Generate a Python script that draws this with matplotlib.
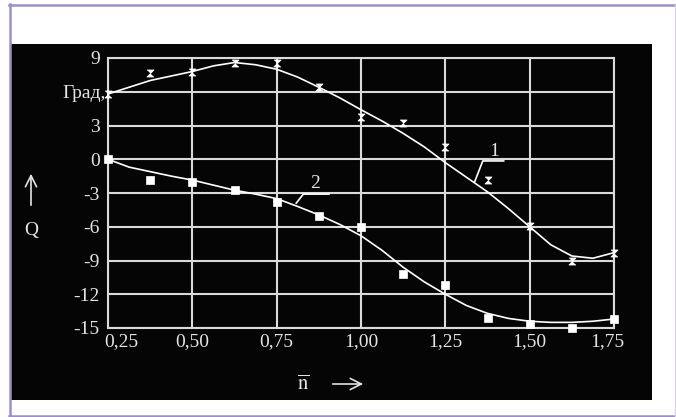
import matplotlib
matplotlib.use("Agg")
import matplotlib.pyplot as plt
import matplotlib.transforms as mtransforms
from matplotlib.patches import Rectangle
from matplotlib.lines import Line2D

plt.rcParams['font.family'] = ['Liberation Serif', 'DejaVu Serif']
plt.rcParams['mathtext.fontset'] = 'stix'

# measured points (markers)
n_pts = [0.25, 0.375, 0.5, 0.625, 0.75, 0.875, 1.0, 1.125, 1.25, 1.375, 1.5, 1.625, 1.75]
q1_pts = [5.8, 7.7, 7.8, 8.6, 8.6, 6.4, 3.8, 3.2, 1.1, -1.8, -5.9, -9.0, -8.3]
q2_pts = [0.0, -1.85, -2.0, -2.7, -3.8, -5.0, -6.05, -10.2, -11.2, -14.1, -14.6, -15.0, -14.2]

# smooth curves
n_curve = [0.25, 0.3125, 0.375, 0.4375, 0.5, 0.5625, 0.625, 0.6875, 0.75, 0.8125,
           0.875, 0.9375, 1.0, 1.0625, 1.125, 1.1875, 1.25, 1.3125, 1.375, 1.4375,
           1.5, 1.5625, 1.625, 1.6875, 1.75]
q1_curve = [5.8, 6.4, 7.0, 7.4, 7.8, 8.3, 8.6, 8.4, 8.0, 7.3,
            6.4, 5.45, 4.4, 3.4, 2.3, 1.1, -0.3, -1.6, -2.9, -4.4,
            -6.0, -7.6, -8.6, -8.8, -8.3]
q2_curve = [0.0, -0.7, -1.1, -1.5, -1.85, -2.3, -2.75, -3.1, -3.5, -4.2,
            -4.95, -5.8, -6.8, -8.1, -9.6, -10.9, -12.0, -13.0, -13.7, -14.15,
            -14.4, -14.5, -14.5, -14.4, -14.2]

x_ticks = [0.25, 0.5, 0.75, 1.0, 1.25, 1.5, 1.75]
x_labels = ['0,25', '0,50', '0,75', '1,00', '1,25', '1,50', '1,75']
y_ticks = [9, 6, 3, 0, -3, -6, -9, -12, -15]
y_labels = ['9', 'Град,', '3', '0', '-3', '-6', '-9', '-12', '-15']

W, H = 676, 417
fig = plt.figure(figsize=(W / 100, H / 100), dpi=100)
fig.patch.set_facecolor('white')


def px(x, y):
    # pixel position (from top-left) -> figure fraction
    return x / W, 1 - y / H


# black panel and lavender frame
fig.add_artist(Rectangle(px(11, 400), 641 / W, 356 / H, transform=fig.transFigure,
                         facecolor='#050505', edgecolor='none', zorder=0))
frame = '#9d8fc6'
for (x0, y0), (x1, y1), c, lw in [((10, 4), (10, 417), frame, 1.8),
                                  ((9, 5), (676, 5), frame, 1.8),
                                  ((9, 416), (676, 416), frame, 1.8),
                                  ((675, 5), (675, 416), '#d9d4e6', 1.0)]:
    a, b = px(x0, y0), px(x1, y1)
    fig.add_artist(Line2D([a[0], b[0]], [a[1], b[1]], transform=fig.transFigure,
                          color=c, lw=lw, zorder=1))

ax = fig.add_axes([108 / W, (H - 328) / H, 506 / W, 270 / H])
ax.set_facecolor('none')
ax.set_xlim(0.25, 1.75)
ax.set_ylim(-15, 9)
ax.set_xticks(x_ticks, x_labels)
ax.set_yticks(y_ticks, y_labels)
ax.grid(True, color='#dadada', lw=1.5)
ax.set_axisbelow(True)
for s in ax.spines.values():
    s.set_color('#dadada')
    s.set_linewidth(1.5)
ax.tick_params(length=0, colors='#e4e4e4', labelsize=14)
ax.tick_params(axis='x', pad=4)
ax.tick_params(axis='y', pad=6)

# nudge a few labels like in the source figure
xl = ax.get_xticklabels()
xl[0].set_transform(xl[0].get_transform() + mtransforms.ScaledTranslation(0.13, 0, fig.dpi_scale_trans))
xl[-1].set_transform(xl[-1].get_transform() + mtransforms.ScaledTranslation(-0.07, 0, fig.dpi_scale_trans))
yl = ax.get_yticklabels()
yl[1].set_transform(yl[1].get_transform() + mtransforms.ScaledTranslation(0.06, 0, fig.dpi_scale_trans))

# curves
ax.plot(n_curve, q1_curve, color='white', lw=1.2, zorder=3, clip_on=False)
ax.plot(n_curve, q2_curve, color='white', lw=1.2, zorder=3, clip_on=False)

hourglass = [(-1, 1), (1, 1), (-1, -1), (1, -1)]
ax.plot(n_pts, q1_pts, ls='none', marker=hourglass, ms=5, mfc='white', mec='white',
        mew=0.6, zorder=4, clip_on=False)
ax.plot(n_pts, q2_pts, ls='none', marker='s', ms=6, mfc='white', mec='white',
        mew=0.5, zorder=4, clip_on=False)

# curve labels with leaders
ax.plot([1.337, 1.361, 1.423], [-2.0, -0.15, -0.15], color='white', lw=1.2, zorder=3)
ax.text(1.396, 0.3, '1', ha='center', va='baseline', color='#e4e4e4', fontsize=14)
ax.plot([0.808, 0.829, 0.905], [-3.9, -3.1, -3.1], color='white', lw=1.2, zorder=3)
ax.text(0.865, -2.55, '2', ha='center', va='baseline', color='#e4e4e4', fontsize=14)

# axis titles with arrows
fig.text(303 / W, 1 - 385 / H, r'$\overline{\mathrm{n}}$', ha='center', va='center',
         color='#e4e4e4', fontsize=15)
fig.add_artist(plt.Annotation('', xy=px(366, 384), xytext=px(330, 384),
                              xycoords='figure fraction', textcoords='figure fraction',
                              arrowprops=dict(arrowstyle='->', color='#e4e4e4', lw=1.2,
                                              mutation_scale=20)))
fig.text(31 / W, 1 - 231 / H, 'Q', ha='center', va='center', color='#e4e4e4', fontsize=14)
fig.add_artist(plt.Annotation('', xy=px(31, 171), xytext=px(31, 208),
                              xycoords='figure fraction', textcoords='figure fraction',
                              arrowprops=dict(arrowstyle='->', color='#e4e4e4', lw=1.2,
                                              mutation_scale=20)))

fig.savefig('out.png', dpi=100, facecolor='white')
